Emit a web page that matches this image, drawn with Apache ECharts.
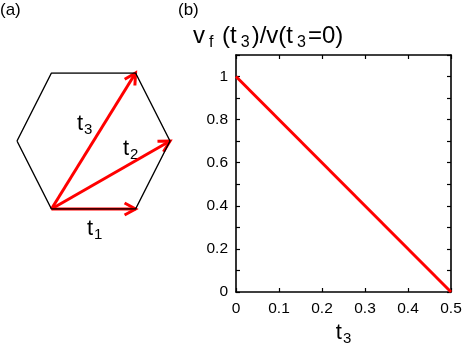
<!DOCTYPE html>
<html>
<head>
<meta charset="utf-8">
<script src="https://cdn.jsdelivr.net/npm/echarts@6/dist/echarts.min.js"></script>
<style>
html,body{margin:0;padding:0;background:#fff;}
#c{width:463px;height:349px;}
</style>
</head>
<body>
<div id="c"></div>
<script>
// ---- data ----
var t3Values = [0, 0.5];
var vRatio = [1, 0];
var xTickValues = [0, 0.1, 0.2, 0.3, 0.4, 0.5];
var xTickLabels = ['0', '0.1', '0.2', '0.3', '0.4', '0.5'];
var yTickValues = [0, 0.2, 0.4, 0.6, 0.8, 1];
var yTickLabels = ['0', '0.2', '0.4', '0.6', '0.8', '1'];
// hexagon (panel a), in its own unit coordinates
var hexX = [-1, -0.55, 0.55, 1, 0.55, -0.55, -1];
var hexY = [0, 1, 1, 0, -1, -1, 0];
var arrowStart = [-0.55, -1];
var arrowEndX = [0.55, 1, 0.55];
var arrowEndY = [-1, 0, 1];
var arrowNames = ['1', '2', '3'];

var FONT = 'Liberation Sans, Arial, sans-serif';
function labelFor(values, labels, v) {
  for (var i = 0; i < values.length; i++) {
    if (Math.abs(values[i] - v) < 1e-6) return labels[i];
  }
  return '';
}

var chart = echarts.init(document.getElementById('c'), null, {renderer: 'canvas'});
var tRich = {
  t: {fontSize: 22, fontFamily: FONT, color: '#000', fontWeight: 'normal'},
  s: {fontSize: 15, fontFamily: FONT, color: '#000', fontWeight: 'normal', padding: [12, 0, 0, 1]}
};
function renderArrow(params, api) {
  var p0 = api.coord([api.value(0), api.value(1)]);
  var p1 = api.coord([api.value(2), api.value(3)]);
  var ang = Math.atan2(p1[1] - p0[1], p1[0] - p0[0]);
  var L = 11, W = 6;
  var bx = p1[0] - L * Math.cos(ang), by = p1[1] - L * Math.sin(ang);
  var nx = -Math.sin(ang), ny = Math.cos(ang);
  var st = {stroke: '#ff0000', lineWidth: 3, fill: null};
  return {
    type: 'group',
    children: [
      {type: 'line', shape: {x1: p0[0], y1: p0[1], x2: p1[0], y2: p1[1]}, style: st},
      {type: 'polyline', shape: {points: [[bx + nx * W, by + ny * W], [p1[0], p1[1]], [bx - nx * W, by - ny * W]]},
        style: {stroke: '#ff0000', lineWidth: 3, fill: null, lineJoin: 'miter'}}
    ]
  };
}
var option = {
  animation: false,
  backgroundColor: '#fff',
  grid: [
    {left: 236, top: 55, width: 215, height: 237, show: false, containLabel: false, outerBoundsMode: 'none'},
    {left: 17, top: 73, width: 153, height: 136, show: false, containLabel: false, outerBoundsMode: 'none'}
  ],
  xAxis: [
    {
      gridIndex: 0, type: 'value', min: 0, max: 0.5, interval: 0.1, position: 'bottom',
      axisLine: {show: true, onZero: false, lineStyle: {color: '#000', width: 1.6}},
      axisTick: {show: true, inside: true, length: 4, lineStyle: {color: '#000', width: 1.2}},
      splitLine: {show: false},
      axisLabel: {margin: 9, fontSize: 15.5, fontFamily: FONT, color: '#000',
        formatter: function (v) { return labelFor(xTickValues, xTickLabels, v); }},
      name: '{t|t}{s|3}', nameLocation: 'middle', nameGap: 26,
      nameTextStyle: {rich: tRich}
    },
    {
      gridIndex: 0, type: 'value', min: 0, max: 0.5, interval: 0.1, position: 'top',
      axisLine: {show: true, onZero: false, lineStyle: {color: '#000', width: 1.6}},
      axisTick: {show: true, inside: true, length: 4, lineStyle: {color: '#000', width: 1.2}},
      axisLabel: {show: false}, splitLine: {show: false}
    },
    {gridIndex: 1, type: 'value', min: -1, max: 1, show: false}
  ],
  yAxis: [
    {
      gridIndex: 0, type: 'value', min: 0, max: 1.1, interval: 0.1, position: 'left',
      axisLine: {show: true, onZero: false, lineStyle: {color: '#000', width: 1.6}},
      axisTick: {show: true, inside: true, length: 4, lineStyle: {color: '#000', width: 1.2}},
      splitLine: {show: false},
      axisLabel: {margin: 8, fontSize: 15.5, fontFamily: FONT, color: '#000',
        formatter: function (v) { return labelFor(yTickValues, yTickLabels, v); }}
    },
    {
      gridIndex: 0, type: 'value', min: 0, max: 1.1, interval: 0.1, position: 'right',
      axisLine: {show: true, onZero: false, lineStyle: {color: '#000', width: 1.6}},
      axisTick: {show: true, inside: true, length: 4, lineStyle: {color: '#000', width: 1.2}},
      axisLabel: {show: false}, splitLine: {show: false}
    },
    {gridIndex: 1, type: 'value', min: -1, max: 1, show: false}
  ],
  title: [
    {text: '(a)', left: 0, top: 2, textStyle: {fontSize: 17, fontWeight: 'normal', fontFamily: FONT, color: '#000'}, padding: 0},
    {text: '(b)', left: 178, top: 2, textStyle: {fontSize: 17, fontWeight: 'normal', fontFamily: FONT, color: '#000'}, padding: 0},
    {
      text: '{m|v}{s|f}{m| (t}{s|3}{m|)/v(t}{s|3}{m|=0)}', left: 193, top: 22, padding: 0,
      textStyle: {fontWeight: 'normal', rich: {
        m: {fontSize: 24, fontFamily: FONT, color: '#000', fontWeight: 'normal'},
        s: {fontSize: 16, fontFamily: FONT, color: '#000', fontWeight: 'normal', padding: [13, 2, 0, 4]}
      }}
    }
  ],
  graphic: [
    {type: 'text', left: 77, top: 113, style: {text: '{t|t}{s|3}', rich: tRich}},
    {type: 'text', left: 123, top: 138, style: {text: '{t|t}{s|2}', rich: tRich}},
    {type: 'text', left: 87, top: 218, style: {text: '{t|t}{s|1}', rich: tRich}}
  ],
  series: [
    {
      type: 'line', xAxisIndex: 0, yAxisIndex: 0, symbol: 'none',
      lineStyle: {color: '#ff0000', width: 3},
      data: t3Values.map(function (x, i) { return [x, vRatio[i]]; })
    },
    {
      type: 'line', xAxisIndex: 2, yAxisIndex: 2, symbol: 'none',
      lineStyle: {color: '#000', width: 1.4},
      data: hexX.map(function (x, i) { return [x, hexY[i]]; })
    },
    {
      type: 'custom', coordinateSystem: 'cartesian2d', xAxisIndex: 2, yAxisIndex: 2,
      renderItem: renderArrow, clip: false,
      encode: {x: [0, 2], y: [1, 3]},
      data: arrowEndX.map(function (x, i) {
        return {name: 't' + arrowNames[i], value: [arrowStart[0], arrowStart[1], x, arrowEndY[i]]};
      })
    }
  ]
};
chart.setOption(option);
</script>
</body>
</html>
